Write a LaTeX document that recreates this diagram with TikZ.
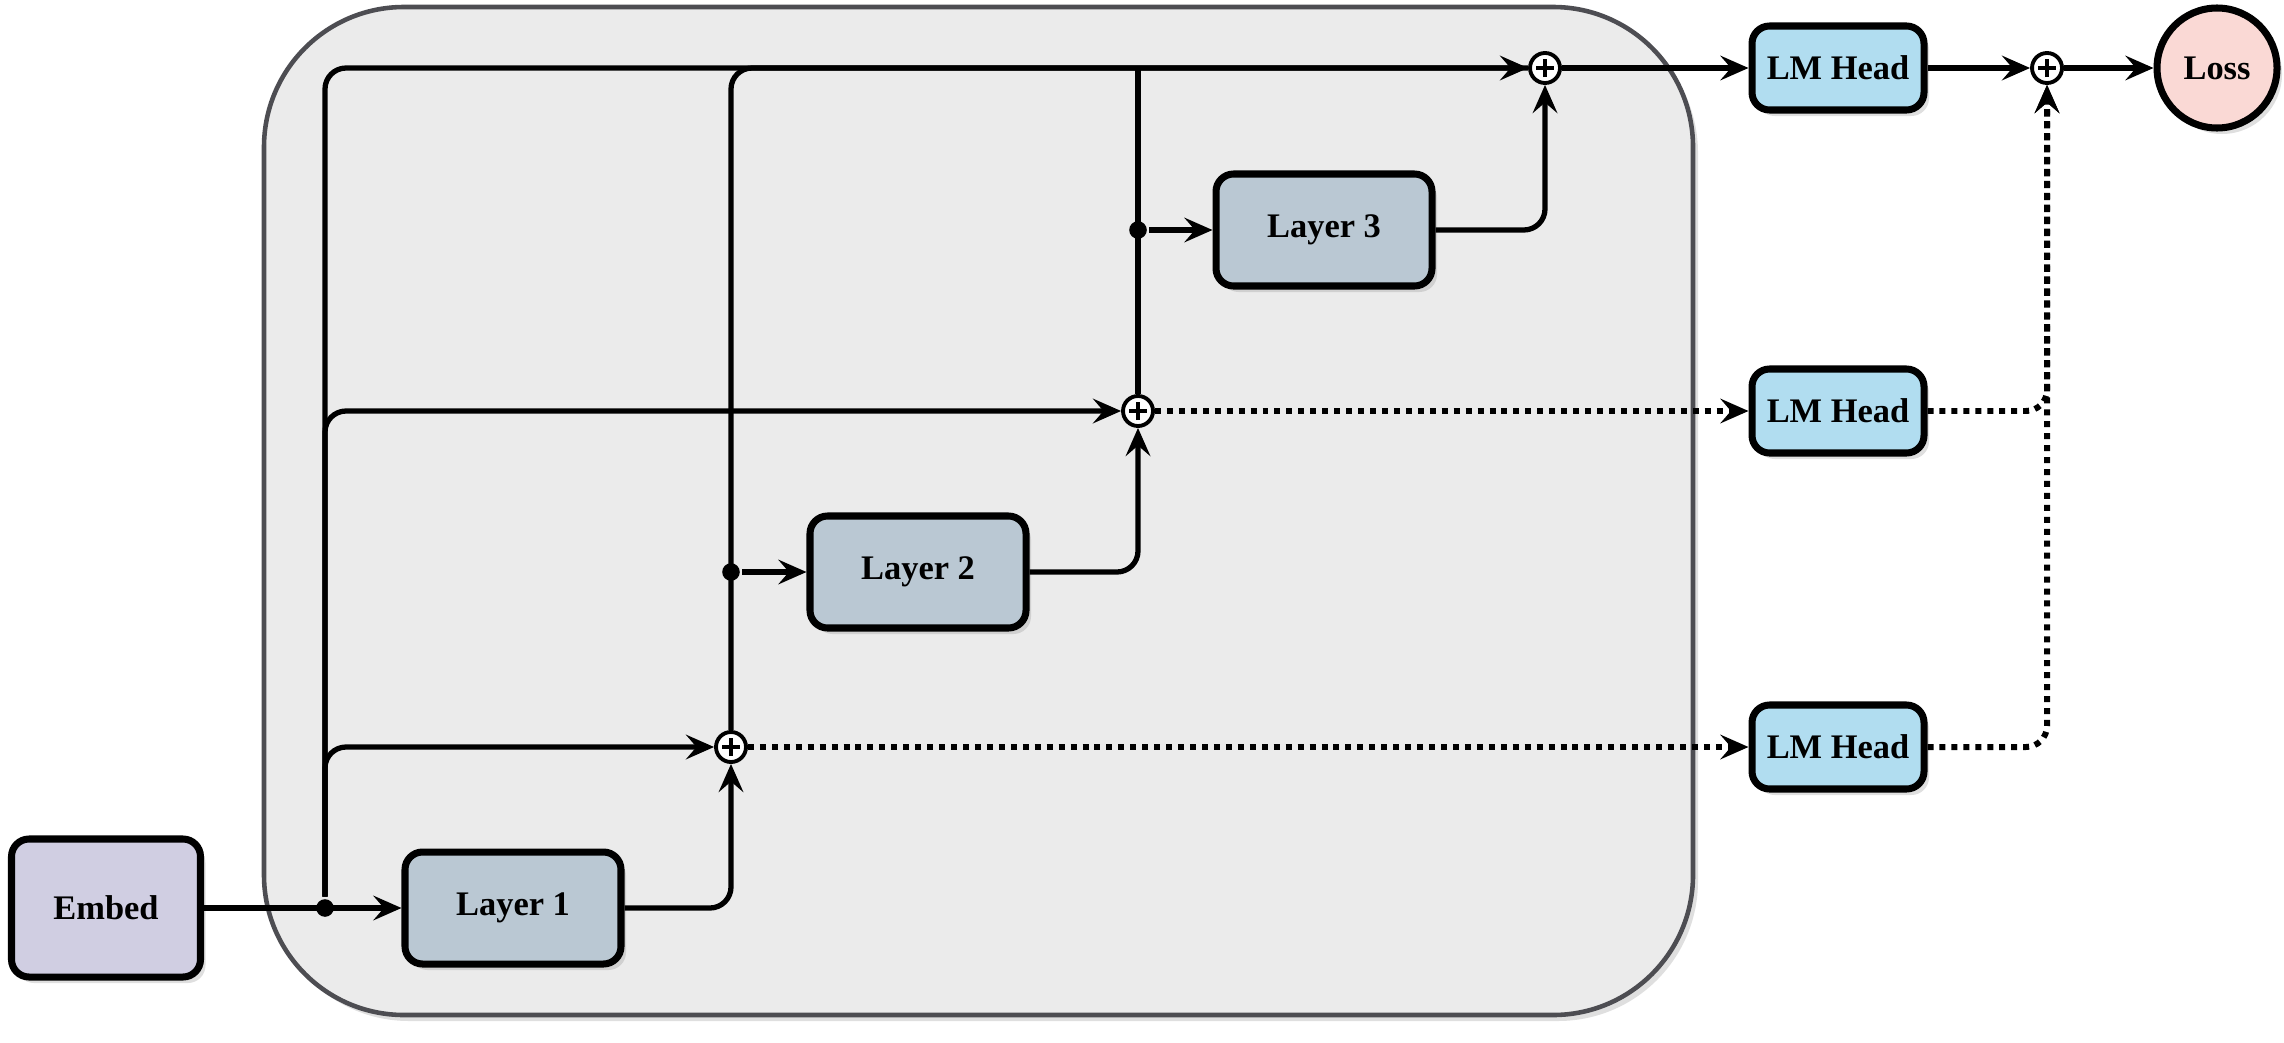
\documentclass[tikz,border=0pt]{standalone}
\usepackage{fontspec}
\setmainfont{Liberation Serif}
\usepackage{tikz}
\usetikzlibrary{arrows.meta,shadows}

\definecolor{embedfill}{HTML}{D0CEE2}
\definecolor{layerfill}{HTML}{BAC8D3}
\definecolor{headfill}{HTML}{B1DDF0}
\definecolor{lossfill}{HTML}{FAD9D5}
\definecolor{stackfill}{HTML}{EBEBEB}
\definecolor{stackline}{HTML}{4D4D52}

\begin{document}
\begin{tikzpicture}[-,>={Stealth[length=8pt,width=7pt,inset=3pt]},line width=1.5pt,
  node distance=4.07cm,
  box shadow/.style={drop shadow={shadow xshift=0.05cm,shadow yshift=-0.06cm,opacity=0.25}},
  main node/.style={rectangle,rounded corners=5pt,draw,line width=2pt,box shadow,
    font=\fontsize{9.8}{11}\selectfont\bfseries},
  embed node/.style={main node,fill=embedfill,minimum width=1.89cm,minimum height=1.38cm},
  layer node/.style={main node,fill=layerfill,minimum width=2.16cm,minimum height=1.12cm},
  head node/.style={main node,fill=headfill,minimum width=1.72cm,minimum height=0.84cm},
  loss node/.style={circle,draw,line width=2pt,fill=lossfill,box shadow,minimum size=1.2cm,
    font=\fontsize{9.8}{11}\selectfont\bfseries},
  plus node/.style={circle,draw,fill=white,line width=1.1pt,minimum size=0.3cm,inner sep=0pt,
    path picture={\draw[line width=0.9pt]
      ([xshift=-0.09cm]path picture bounding box.center) -- ([xshift=0.09cm]path picture bounding box.center)
      ([yshift=-0.09cm]path picture bounding box.center) -- ([yshift=0.09cm]path picture bounding box.center);}},
  dot node/.style={circle,fill=black,minimum size=5pt,inner sep=0pt},
  dots/.style={line width=1.7pt,dash pattern=on 1.7pt off 1.7pt}]
  \useasboundingbox (0,0) rectangle (22.84,-10.42);

  % transformer stack
  \draw[draw=stackline,fill=stackfill,line width=1.3pt,rounded corners=1.4cm,box shadow]
    (2.64,-0.07) rectangle (16.93,-10.15);

  \node[embed node] (embed) at (1.06,-9.08) {Embed};
  \node[layer node] (l1) [right of=embed] {Layer 1};
  \node[layer node] (l2) at (9.18,-5.72) {Layer 2};
  \node[layer node] (l3) at (13.24,-2.30) {Layer 3};

  \node[plus node] (plus1) at (7.31,-7.47) {};
  \node[plus node] (plus2) at (11.38,-4.11) {};
  \node[plus node] (plus3) at (15.45,-0.68) {};

  \node[dot node] (d0) at (3.25,-9.08) {};
  \node[dot node] (d1) at (7.31,-5.72) {};
  \node[dot node] (d2) at (11.38,-2.30) {};

  \node[head node] (h1) at (18.38,-0.68) {LM Head};
  \node[head node] (h2) at (18.38,-4.11) {LM Head};
  \node[head node] (h3) at (18.38,-7.47) {LM Head};

  \node[plus node] (plus4) at (20.47,-0.68) {};
  \node[loss node] (loss) at (22.17,-0.68) {Loss};

  % residual paths
  \draw[->] (embed) -- (l1);
  \draw[->,rounded corners=6pt] (d0) |- (plus3);
  \draw[->,rounded corners=6pt] (d0) |- (plus2);
  \draw[->,rounded corners=6pt] (d0) |- (plus1);
  \draw[->,rounded corners=6pt] (l1) -| (plus1);
  \draw[rounded corners=6pt] (plus1) |- (plus3);
  \draw[->] (d1) -- (l2);
  \draw[->,rounded corners=6pt] (l2) -| (plus2);
  \draw (plus2) -- (plus2 |- plus3);
  \draw[->] (d2) -- (l3);
  \draw[->,rounded corners=6pt] (l3) -| (plus3);

  % heads and loss
  \draw[->] (plus3) -- (h1);
  \draw[->,dots] (plus2) -- (h2);
  \draw[->,dots] (plus1) -- (h3);
  \draw[->] (h1) -- (plus4);
  \draw[->,dots,rounded corners=6pt] (h2) -| (plus4);
  \draw[->,dots,rounded corners=6pt] (h3) -| (plus4);
  \draw[->] (plus4) -- (loss);
\end{tikzpicture}
\end{document}
